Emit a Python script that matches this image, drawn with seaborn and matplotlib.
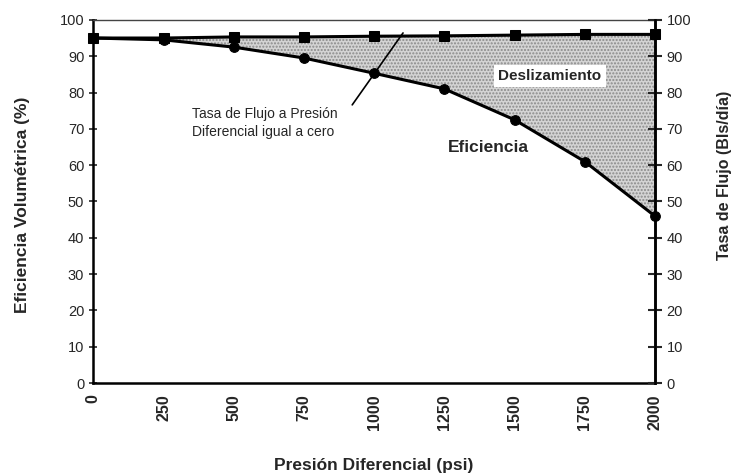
import numpy as np
import pandas as pd
import matplotlib
matplotlib.use("Agg")
import matplotlib.pyplot as plt
import seaborn as sns

# data
presion = [0, 250, 500, 750, 1000, 1250, 1500, 1750, 2000]
eficiencia = [95, 94.5, 92.5, 89.5, 85.3, 81, 72.5, 61, 46]
tasa_flujo = [95, 95, 95.3, 95.3, 95.5, 95.6, 95.8, 96, 96]
xticks = [0, 250, 500, 750, 1000, 1250, 1500, 1750, 2000]
yticks = list(range(0, 101, 10))

sns.set_style("white")
plt.rcParams["font.family"] = ["Liberation Sans", "DejaVu Sans"]

df = pd.DataFrame({"presion": presion, "eficiencia": eficiencia, "flujo": tasa_flujo})

fig = plt.figure(figsize=(7.35, 4.73), dpi=100)
ax = fig.add_axes([0.127, 0.19, 0.764, 0.768])

ax.fill_between(df["presion"], df["eficiencia"], df["flujo"],
                facecolor="#d4d4d4", edgecolor="#8a8a8a", hatch=".....", linewidth=0)

for col, mk in [("flujo", "s"), ("eficiencia", "o")]:
    sns.lineplot(data=df, x="presion", y=col, ax=ax, color="black",
                 marker=mk, markersize=7, linewidth=2.2, markeredgecolor="black",
                 clip_on=False, zorder=5)

ax.set_xlim(0, 2000)
ax.set_ylim(0, 100)
ax.set_xticks(xticks)
ax.set_xticklabels([str(v) for v in xticks], rotation=90, fontsize=11.5, fontweight="bold")
ax.set_yticks(yticks)
ax.tick_params(axis="y", direction="inout", length=6, width=1.2, labelsize=10.5)
ax.tick_params(axis="x", direction="in", length=4, width=1.2, pad=8)

ax.set_xlabel("Presión Diferencial (psi)", fontsize=12.5, fontweight="bold")
ax.xaxis.set_label_coords(0.5, -0.205)
ax.set_ylabel("Eficiencia Volumétrica (%)", fontsize=12.5, fontweight="bold")
ax.yaxis.set_label_coords(-0.113, 0.49)

for side in ["left", "bottom", "right"]:
    ax.spines[side].set_linewidth(1.8)
    ax.spines[side].set_color("black")
ax.spines["top"].set_linewidth(1.0)
ax.spines["top"].set_color("#444444")

ax2 = ax.twinx()
ax2.set_ylim(0, 100)
ax2.set_yticks(yticks)
ax2.tick_params(axis="y", direction="inout", length=10, width=1.5, labelsize=10.5)
ax2.set_ylabel("Tasa de Flujo (Bls/día)", fontsize=11.5, fontweight="bold")
ax2.yaxis.set_label_coords(1.11, 0.573)
for s in ax2.spines.values():
    s.set_visible(False)
ax2.spines["right"].set_visible(True)
ax2.spines["right"].set_linewidth(1.8)
ax2.spines["right"].set_color("black")

ax.text(1626, 84.5, "Deslizamiento", fontsize=11, fontweight="bold", ha="center",
        va="center", bbox=dict(facecolor="white", edgecolor="none", pad=3))
ax.text(1406, 65, "Eficiencia", fontsize=12.5, fontweight="bold", ha="center", va="center")
ax.text(352, 71.6, "Tasa de Flujo a Presión\nDiferencial igual a cero", fontsize=10,
        ha="left", va="center", linespacing=1.35)
ax.annotate("", xy=(1103, 96.4), xytext=(922, 76.6),
            arrowprops=dict(arrowstyle="-", color="black", lw=1.2, shrinkA=0, shrinkB=0))

fig.savefig("out.png", dpi=100)
